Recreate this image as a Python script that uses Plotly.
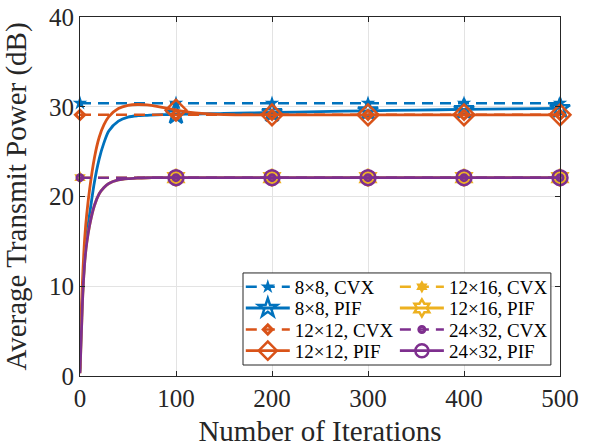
import plotly.graph_objects as go

# Iteration positions of the CVX benchmark markers (constant lines)
cvx_iters = [0, 100, 200, 300, 400, 500]
cvx_8x8 = [30.4, 30.4, 30.4, 30.4, 30.4, 30.4]
cvx_12x12 = [29.1, 29.1, 29.1, 29.1, 29.1, 29.1]
cvx_12x16 = [22.1, 22.1, 22.1, 22.1, 22.1, 22.1]
cvx_24x32 = [22.1, 22.1, 22.1, 22.1, 22.1, 22.1]

# Sampled iterations of the PIF convergence curves
pif_iters = [0, 1, 2, 3, 5, 7, 10, 15, 20, 25, 30, 40, 50, 60, 70, 80, 90,
             100, 110, 120, 135, 150, 200, 250, 300, 350, 400, 450, 500]
pif_8x8 = [0.5, 4.5, 7.5, 9.8, 13.2, 15.6, 18.0, 21.6, 24.2, 26.0, 27.3, 28.4,
           28.85, 29.0, 29.05, 29.1, 29.12, 29.15, 29.17, 29.19, 29.22, 29.25,
           29.36, 29.46, 29.55, 29.63, 29.7, 29.76, 29.82]
pif_12x12 = [0.8, 5.5, 9.0, 11.6, 15.5, 18.0, 20.8, 24.3, 26.6, 28.0, 28.9,
             29.8, 30.15, 30.25, 30.2, 30.05, 29.85, 29.62, 29.45, 29.32, 29.2,
             29.13, 29.1, 29.1, 29.1, 29.1, 29.1, 29.1, 29.1]
pif_12x16 = [0.3, 3.5, 6.5, 9.3, 12.8, 14.8, 16.8, 19.0, 20.3, 21.0, 21.45,
             21.85, 22.0, 22.06, 22.09, 22.1, 22.1, 22.1, 22.1, 22.1, 22.1,
             22.1, 22.1, 22.1, 22.1, 22.1, 22.1, 22.1, 22.1]
pif_24x32 = [0.3, 3.5, 6.5, 9.3, 12.8, 14.8, 16.8, 19.0, 20.3, 21.0, 21.45,
             21.85, 22.0, 22.06, 22.09, 22.1, 22.1, 22.1, 22.1, 22.1, 22.1,
             22.1, 22.1, 22.1, 22.1, 22.1, 22.1, 22.1, 22.1]
pif_mark_iters = [100, 200, 300, 400, 500]

x_ticks = [0, 100, 200, 300, 400, 500]
y_ticks = [0, 10, 20, 30, 40]

BLUE, ORANGE, YELLOW, PURPLE = "#0072BD", "#D95319", "#EDB120", "#7E2F8E"
FONT = "Liberation Serif"
DASH = "11px,7px"

# label, kind, values, color, symbol, plot size, legend size, (column, row)
series = [
    ("8×8, CVX", "cvx", cvx_8x8, BLUE, "star", 11, 11, (0, 0)),
    ("8×8, PIF", "pif", pif_8x8, BLUE, "star-open", 15, 14, (0, 1)),
    ("12×12, CVX", "cvx", cvx_12x12, ORANGE, "diamond-open", 7, 7, (0, 2)),
    ("12×12, PIF", "pif", pif_12x12, ORANGE, "diamond-open", 16, 14, (0, 3)),
    ("12×16, CVX", "cvx", cvx_12x16, YELLOW, "hexagram", 10, 10, (1, 0)),
    ("12×16, PIF", "pif", pif_12x16, YELLOW, "hexagram-open", 13, 13, (1, 1)),
    ("24×32, CVX", "cvx", cvx_24x32, PURPLE, "circle-open", 6, 6, (1, 2)),
    ("24×32, PIF", "pif", pif_24x32, PURPLE, "circle-open", 15, 13, (1, 3)),
]

# legend grid (paper coordinates) inside one framed box
col_x = [0.335, 0.656]
row_y = [0.248, 0.189, 0.129, 0.070]


def marker_style(kind, color, sym, size):
    open_sym = sym.endswith("open")
    width = (3 if kind == "cvx" else 2.5) if open_sym else 0
    return dict(symbol=sym, size=size, color=color,
                line=dict(color=color, width=width))


fig = go.Figure()
legend_layout = {}
for i, (label, kind, vals, color, sym, size, lsize, (c, r)) in enumerate(series):
    lg = "legend" if i == 0 else "legend%d" % (i + 1)
    legend_layout[lg] = dict(
        x=col_x[c], y=row_y[r], xanchor="left", yanchor="middle",
        font=dict(family=FONT, size=19, color="#000000"),
        bgcolor="rgba(0,0,0,0)", borderwidth=0, itemwidth=44)
    if kind == "cvx":
        fig.add_trace(go.Scatter(
            x=cvx_iters, y=vals, mode="lines+markers", name=label, legend=lg,
            line=dict(color=color, width=2.5, dash=DASH),
            marker=marker_style(kind, color, sym, size), cliponaxis=False))
    else:
        fig.add_trace(go.Scatter(
            x=pif_iters, y=vals, mode="lines", showlegend=False,
            line=dict(color=color, width=2.8, shape="spline", smoothing=0.8),
            hoverinfo="skip"))
        mark_y = [vals[pif_iters.index(it)] for it in pif_mark_iters]
        fig.add_trace(go.Scatter(
            x=pif_mark_iters, y=mark_y, mode="markers", showlegend=False,
            marker=marker_style(kind, color, sym, size), cliponaxis=False))
        # legend entry combining the solid line and the marker
        fig.add_trace(go.Scatter(
            x=[None], y=[None], mode="lines+markers", name=label, legend=lg,
            line=dict(color=color, width=2.8),
            marker=marker_style(kind, color, sym, lsize)))

axis_common = dict(
    showline=True, linecolor="#262626", linewidth=1, mirror="ticks",
    ticks="inside", ticklen=5, tickcolor="#262626",
    showgrid=True, gridcolor="#e3e3e3", gridwidth=1, zeroline=False,
    automargin=False,
    tickfont=dict(family=FONT, size=25, color="#262626"),
)

fig.update_xaxes(range=[0, 500], tickvals=x_ticks,
                 title=dict(text="Number of Iterations",
                            font=dict(family=FONT, size=29, color="#262626")),
                 **axis_common)
fig.update_yaxes(range=[0, 40], tickvals=y_ticks,
                 title=dict(text="Average Transmit Power (dB)",
                            font=dict(family=FONT, size=29, color="#262626")),
                 **axis_common)

fig.update_layout(
    width=590, height=447,
    margin=dict(l=80, r=30, t=17, b=71),
    plot_bgcolor="white", paper_bgcolor="white",
    showlegend=True,
    shapes=[dict(type="rect", xref="paper", yref="paper",
                 x0=0.3396, x1=0.981, y0=0.0306, y1=0.287,
                 line=dict(color="#262626", width=1),
                 fillcolor="white", layer="above")],
    **legend_layout,
)

fig.write_html("out.html")
